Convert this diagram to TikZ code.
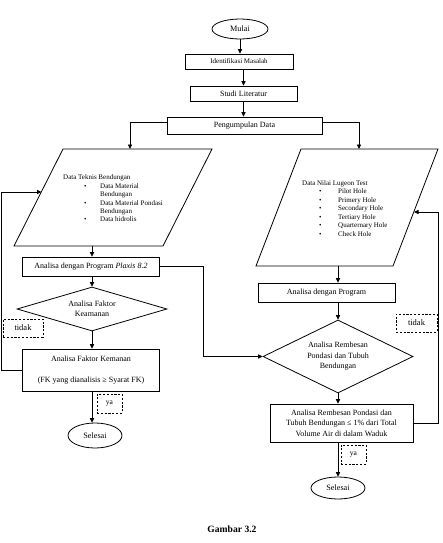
\documentclass[tikz,border=0pt]{standalone}
\usepackage{fontspec}
\setmainfont{Liberation Serif}
\usetikzlibrary{arrows.meta,shapes.geometric,calc}
\begin{document}
\begin{tikzpicture}[x=1pt,y=-1pt,
  lw/.style={line width=0.8pt},
  arr/.style={lw,-{Triangle[length=4.5pt,width=4.2pt]}},
  box/.style={draw,lw,inner sep=0pt,align=center,font=\fontsize{8}{10.5}\selectfont},
  term/.style={draw,lw,ellipse,inner sep=0pt,font=\fontsize{8.2}{10}\selectfont},
  dec/.style={draw,lw,diamond,inner sep=0pt,align=center,font=\fontsize{8}{10.5}\selectfont},
  lbl/.style={draw,dashed,line width=0.9pt,dash pattern=on 2.2pt off 1.6pt,inner sep=0pt,font=\fontsize{8.5}{10}\selectfont},
  ptxt/.style={anchor=base west,inner sep=0pt,font=\fontsize{7}{8.4}\selectfont},
  io/.style={draw,lw}]
\useasboundingbox (0,0) rectangle (442,543);

% top column
\node[term,minimum width=56pt,minimum height=20pt] (mulai) at (240,29) {Mulai};
\node[box,minimum width=108pt,minimum height=15pt,font=\fontsize{7}{9}\selectfont] (ident) at (239,61.5) {Identifikasi Masalah};
\node[box,minimum width=107pt,minimum height=15pt] (studi) at (243.5,93.5) {Studi Literatur};
\node[box,minimum width=155pt,minimum height=17pt] (peng) at (244.5,125.5) {Pengumpulan Data};
\draw[arr] (mulai.south) -- (mulai.south |- ident.north);
\draw[arr] (ident.south -| studi.north) -- (studi.north);
\draw[arr] (studi.south) -- (studi.south |- peng.north);

% left parallelogram
\coordinate (pLtop) at (130,149);
\coordinate (pLbot) at (92,246);
\coordinate (lin) at (41.5,192);
\coordinate (lcorner) at (1.5,192);
\draw[io] (63,149) -- (212,149) -- (163,246) -- (14,246) -- cycle;
\node[ptxt] (lt0) at (63,179.3) {Data Teknis Bendungan};
\node[ptxt] (lb1) at (84,188.2) {•};
\node[ptxt] (lt1) at (100,188.2) {Data Material};
\node[ptxt] (lt2) at (100,196.8) {Bendungan};
\node[ptxt] (lb3) at (84,205.2) {•};
\node[ptxt] (lt3) at (100,205.2) {Data Material Pondasi};
\node[ptxt] (lt4) at (100,213.6) {Bendungan};
\node[ptxt] (lb5) at (84,221.9) {•};
\node[ptxt] (lt5) at (100,221.9) {Data hidrolis};

% right parallelogram
\coordinate (pRtop) at (359,149);
\coordinate (pRbot) at (338,266);
\coordinate (rin) at (414,212);
\coordinate (rcorner) at (438,212);
\draw[io] (301,149) -- (438,149) -- (393,266) -- (256,266) -- cycle;
\node[ptxt] (rt0) at (302,185.3) {Data Nilai Lugeon Test};
\node[ptxt] (rb1) at (319,193.6) {•};
\node[ptxt] (rt1) at (338,193.6) {Pilot Hole};
\node[ptxt] (rb2) at (319,202.0) {•};
\node[ptxt] (rt2) at (338,202.0) {Primery Hole};
\node[ptxt] (rb3) at (319,210.5) {•};
\node[ptxt] (rt3) at (338,210.5) {Secondary Hole};
\node[ptxt] (rb4) at (319,219.0) {•};
\node[ptxt] (rt4) at (338,219.0) {Tertiary Hole};
\node[ptxt] (rb5) at (319,227.5) {•};
\node[ptxt] (rt5) at (338,227.5) {Quarternary Hole};
\node[ptxt] (rb6) at (319,236.0) {•};
\node[ptxt] (rt6) at (338,236.0) {Check Hole};

\draw[arr] ([yshift=3.5pt]peng.west) -| (pLtop);
\draw[arr] ([yshift=3.5pt]peng.east) -| (pRtop);

% left column
\node[box,minimum width=137pt,minimum height=19pt] (plx) at (91,266.5) {Analisa dengan Program \textit{Plaxis 8.2}};
\node[dec,minimum width=150pt,minimum height=44pt,aspect=3.4] (dL) at (92,309) {Analisa Faktor\\Keamanan};
\node[box,minimum width=137pt,minimum height=42pt] (fk) at (91,370) {Analisa Faktor Kemanan\\[10pt](FK yang dianalisis ≥ Syarat FK)};
\node[term,minimum width=54pt,minimum height=25pt] (selL) at (95,435.5) {Selesai};
\node[lbl,minimum width=40pt,minimum height=18pt] (tdL) at (23,328) {tidak};
\node[lbl,minimum width=25pt,minimum height=19pt,font=\fontsize{7.5}{9}\selectfont] (yaL) at (109.5,403.5) {ya};
\draw[arr] (pLbot) -- (pLbot |- plx.north);
\draw[arr] (plx.south -| dL.north) -- (dL.north);
\draw[arr] (dL.south) -- (dL.south |- fk.north);
\draw[arr] (fk.south -| dL.south) -- (dL.south |- selL.north);
\draw[arr] (fk.west) -| (lcorner) -- (lin);

% right column
\coordinate (jct) at (203,356.5);
\node[box,minimum width=137pt,minimum height=19pt] (prg) at (326.5,292.5) {Analisa dengan Program};
\node[dec,minimum width=150pt,minimum height=73pt,aspect=2] (dR) at (338,356.5) {Analisa Rembesan\\Pondasi dan Tubuh\\Bendungan};
\node[box,minimum width=143pt,minimum height=38pt] (rb) at (341.5,423) {Analisa Rembesan Pondasi dan\\Tubuh Bendungan ≤ 1\% dari Total\\Volume Air di dalam Waduk};
\node[term,minimum width=54pt,minimum height=22pt] (selR) at (338,488) {Selesai};
\node[lbl,minimum width=41pt,minimum height=18pt] (tdR) at (416.5,323) {tidak};
\node[lbl,minimum width=25pt,minimum height=19pt,font=\fontsize{7.5}{9}\selectfont] (yaR) at (353.5,454.5) {ya};
\draw[arr] (pRbot) -- (pRbot |- prg.north);
\draw[arr] (prg.south -| dR.north) -- (dR.north);
\draw[arr] (dR.south) -- (dR.south |- rb.north);
\draw[arr] (rb.south -| selR.north) -- (selR.north);
\draw[arr] (rb.east) -| (rcorner) -- (rin);
\draw[arr] (plx.east) -| (jct) -- (dR.west);

% caption
\node[inner sep=0pt,font=\fontsize{9.6}{11}\selectfont\bfseries] (cap) at (232,529) {Gambar 3.2};
\end{tikzpicture}
\end{document}
